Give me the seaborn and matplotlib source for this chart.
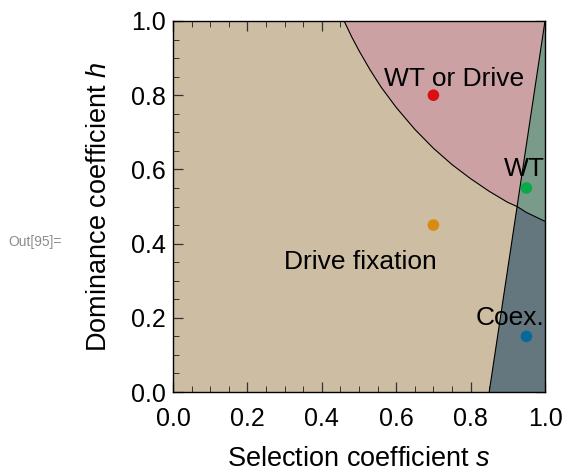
import numpy as np
import pandas as pd
import matplotlib
matplotlib.use("Agg")
import matplotlib.pyplot as plt
import seaborn as sns

# ---- data ----
# curved boundary (WT-or-Drive / Drive fixation, and WT / Coex.)
curve_s = [0.46, 0.48, 0.50, 0.53, 0.56, 0.60, 0.65, 0.70, 0.75, 0.80, 0.85, 0.90, 0.925, 0.95, 1.00]
curve_h = [1.00, 0.958, 0.92, 0.868, 0.821, 0.767, 0.708, 0.657, 0.613, 0.575, 0.541, 0.511, 0.50, 0.484, 0.46]
# straight boundary
line_s = [0.85, 0.925, 1.00]
line_h = [0.00, 0.50, 1.00]
# sample points
pt_s = [0.70, 0.70, 0.95, 0.95]
pt_h = [0.80, 0.45, 0.55, 0.15]
pt_name = ["WT or Drive", "Drive fixation", "WT", "Coex."]
# region labels
lab_text = ["WT or Drive", "WT", "Drive fixation", "Coex."]
lab_s = [0.755, 0.945, 0.505, 0.905]
lab_h = [0.845, 0.60, 0.35, 0.20]
xticks = [0.0, 0.2, 0.4, 0.6, 0.8, 1.0]
yticks = [0.0, 0.2, 0.4, 0.6, 0.8, 1.0]

col_tan = "#CCBDA3"
col_pink = "#CBA1A3"
col_green = "#7A9B89"
col_slate = "#64777F"
pt_colors = {"WT or Drive": "#D90F14", "Drive fixation": "#D98A10",
             "WT": "#0AAA4A", "Coex.": "#07689A"}

sns.set_theme(style="ticks")
plt.rcParams["font.family"] = ["Liberation Sans", "DejaVu Sans"]
plt.rcParams["mathtext.fontset"] = "custom"
plt.rcParams["mathtext.rm"] = "Liberation Sans"
plt.rcParams["mathtext.it"] = "Liberation Sans:italic"

fig = plt.figure(figsize=(5.65, 4.74), dpi=100)
ax = fig.add_axes([173/565, (474-392)/474, 372/565, 371/474])
ax.set_facecolor(col_tan)

cs = np.array(curve_s); ch = np.array(curve_h)
ix = curve_s.index(0.925)
# pink: above curve, left of line
pink_x = list(cs[:ix+1]) + [1.0]
pink_y = list(ch[:ix+1]) + [1.0]
ax.fill(pink_x, pink_y, color=col_pink, lw=0, zorder=1)
# green: above curve, right of line
green_x = list(cs[ix:]) + [1.0]
green_y = list(ch[ix:]) + [1.0]
ax.fill(green_x, green_y, color=col_green, lw=0, zorder=1)
# slate: below curve, right of line
slate_x = [line_s[0]] + list(cs[ix:]) + [1.0]
slate_y = [line_h[0]] + list(ch[ix:]) + [0.0]
ax.fill(slate_x, slate_y, color=col_slate, lw=0, zorder=1)

sns.lineplot(x=curve_s, y=curve_h, ax=ax, color="black", lw=0.8, sort=False, zorder=2)
sns.lineplot(x=line_s, y=line_h, ax=ax, color="black", lw=0.8, sort=False, zorder=2)

df = pd.DataFrame({"s": pt_s, "h": pt_h, "name": pt_name})
sns.scatterplot(data=df, x="s", y="h", hue="name", palette=pt_colors, s=70,
                linewidth=0, legend=False, ax=ax, zorder=4)

for t, x, y in zip(lab_text, lab_s, lab_h):
    ax.text(x, y, t, ha="center", va="center", fontsize=19, color="black", zorder=5)

ax.set_xlim(0, 1)
ax.set_ylim(0, 1)
ax.set_xticks(xticks)
ax.set_yticks(yticks)
ax.set_xticklabels([f"{v:.1f}" for v in xticks])
ax.set_yticklabels([f"{v:.1f}" for v in yticks])
ax.set_xticks(np.arange(0, 1.0001, 0.05), minor=True)
ax.set_yticks(np.arange(0, 1.0001, 0.05), minor=True)
ax.tick_params(which="both", direction="in", top=True, right=True, color="#333333")
ax.tick_params(which="major", length=7, width=0.9, labelsize=18, labelcolor="black")
ax.tick_params(axis="x", which="major", pad=10.5)
ax.tick_params(axis="y", which="major", pad=5)
ax.tick_params(which="minor", length=4, width=0.7)
for sp in ax.spines.values():
    sp.set_visible(True)
    sp.set_color("black")
    sp.set_linewidth(1.0)

ax.set_xlabel("Selection coefficient $s$", fontsize=19.5, labelpad=11, color="black")
ax.set_ylabel("Dominance coefficient $h$", fontsize=19.5, labelpad=14, color="black")

fig.text(8/565, 1 - 242/474, "Out[95]=", fontsize=10, color="#8c8c8c", ha="left", va="center")

fig.savefig("out.png", dpi=100)
